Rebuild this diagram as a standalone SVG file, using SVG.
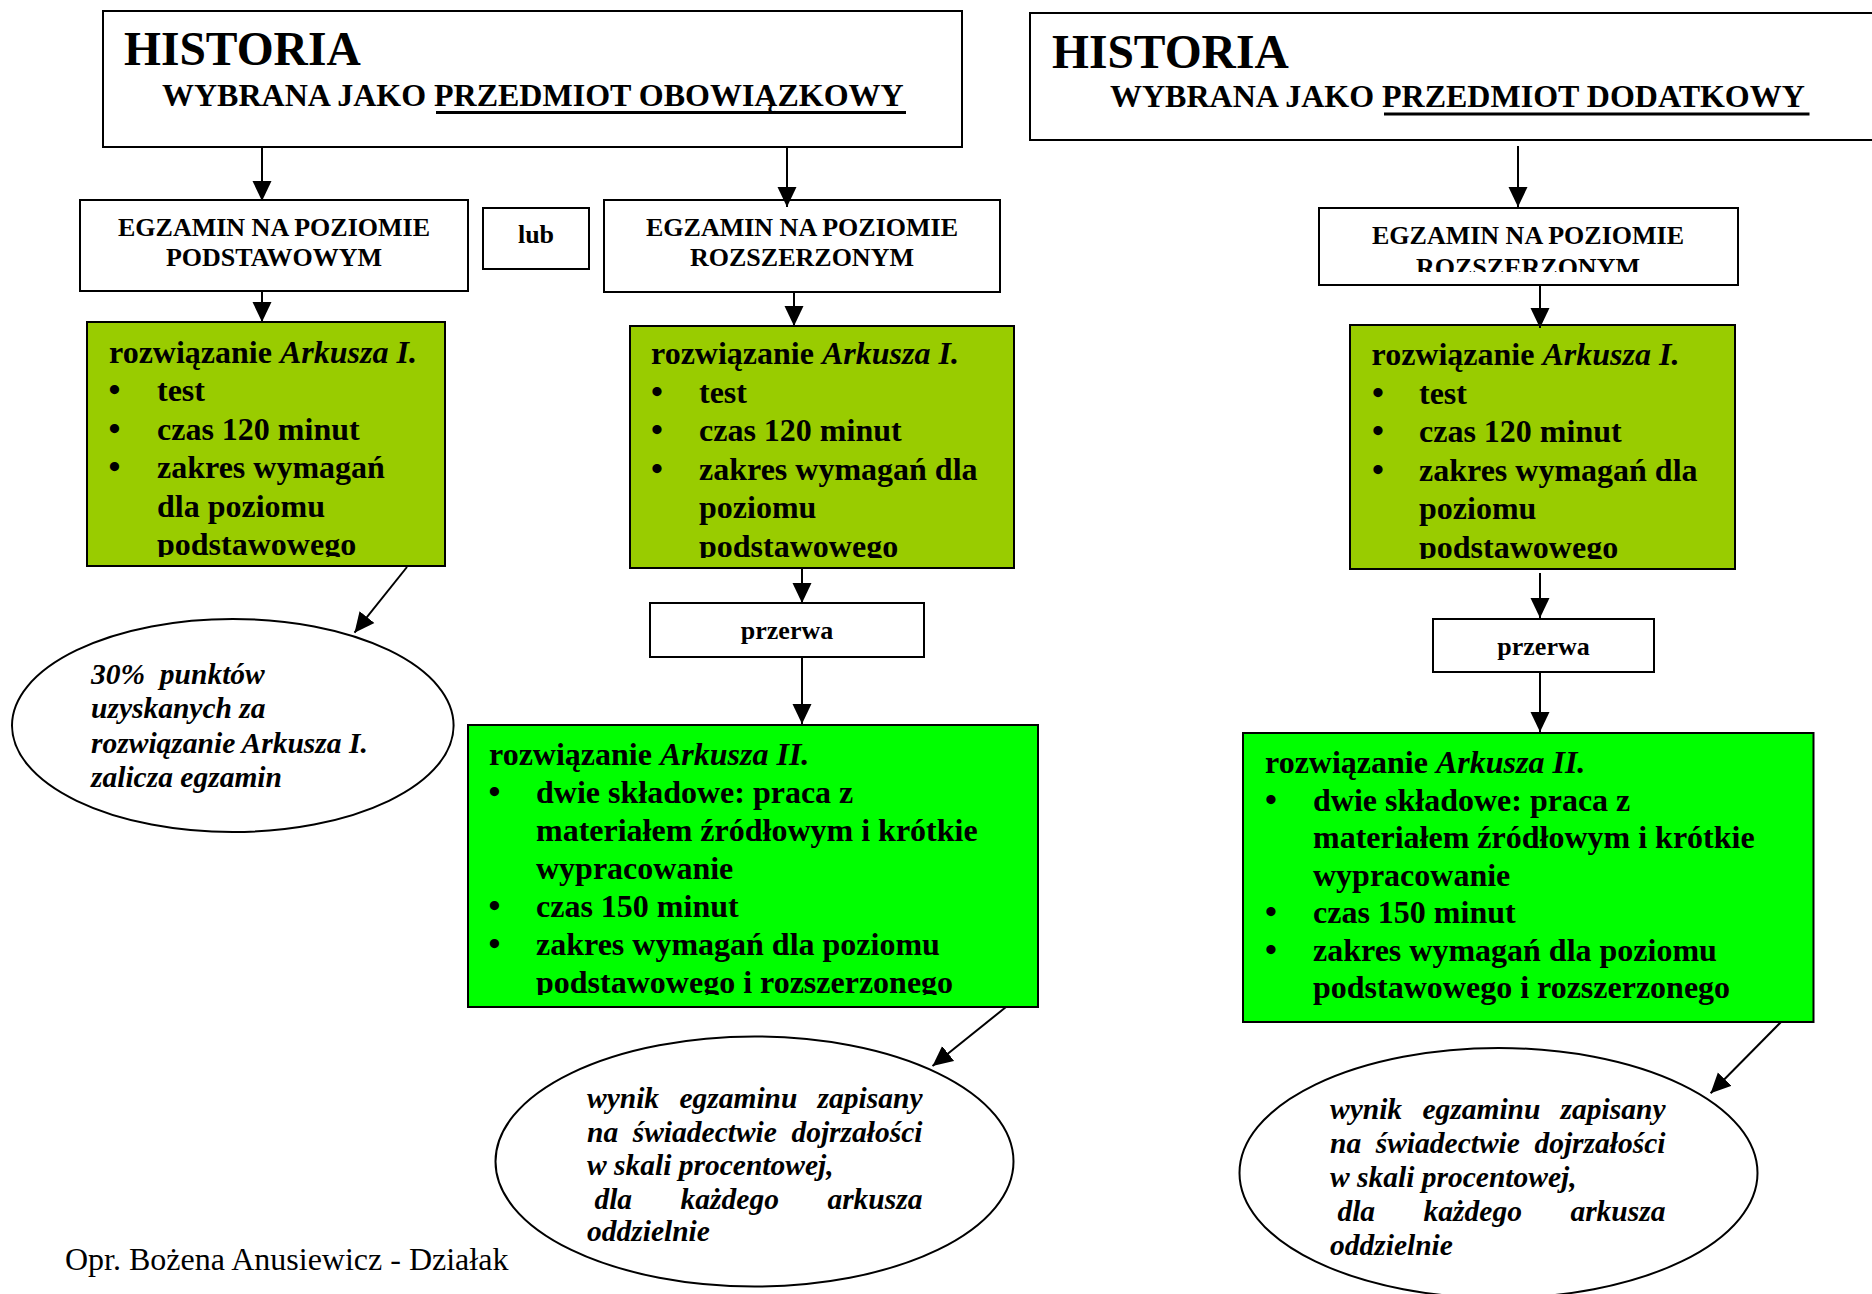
<svg xmlns="http://www.w3.org/2000/svg" width="1872" height="1294" viewBox="0 0 1872 1294">
<style>
.bx{fill:#fff;stroke:#000;stroke-width:2}
.ga{fill:#99CC00;stroke:#000;stroke-width:2}
.gb{fill:#00FF00;stroke:#000;stroke-width:2}
.el{fill:#fff;stroke:#000;stroke-width:2}
text{font-family:"Liberation Serif","Times New Roman",serif;fill:#000}
.i{font-style:italic}
.h1{font-size:47.5px;font-weight:bold}
.h2{font-size:32px;font-weight:bold}
.eg{font-size:26px;font-weight:bold}
.gt{font-size:32px;font-weight:bold}
.bu{font-size:34px}
.et{font-size:29.5px;font-weight:bold;font-style:italic}
.ft{font-size:32px}
.cn line{stroke:#000;stroke-width:2}
</style>
<defs>
<marker id="ah" markerUnits="userSpaceOnUse" markerWidth="20" markerHeight="20" refX="20" refY="10" orient="auto">
<path d="M0,0.5 L20,10 L0,19.5 Z" fill="#000"/>
</marker>
<clipPath id="cEgR"><rect x="1319" y="208" width="419" height="64"/></clipPath>
<clipPath id="cG1L"><rect x="87" y="322" width="358" height="235"/></clipPath>
<clipPath id="cG1M"><rect x="630" y="326" width="384" height="232"/></clipPath>
<clipPath id="cG1R"><rect x="1350" y="325" width="385" height="234"/></clipPath>
<clipPath id="cG2M"><rect x="468" y="725" width="570" height="270"/></clipPath>
</defs>

<g id="title-left">
<rect class="bx" x="103" y="11" width="859" height="136"/>
<text class="h1" x="124" y="65">HISTORIA</text>
<text class="h2" x="162" y="106">WYBRANA JAKO PRZEDMIOT OBOWIĄZKOWY</text>
<line x1="436" y1="112.5" x2="906" y2="112.5" stroke="#000" stroke-width="3"/>
</g>

<g id="title-right">
<rect class="bx" x="1030" y="13" width="850" height="127"/>
<text class="h1" x="1052" y="68">HISTORIA</text>
<text class="h2" x="1110" y="107">WYBRANA JAKO PRZEDMIOT DODATKOWY</text>
<line x1="1384" y1="114" x2="1809.5" y2="114" stroke="#000" stroke-width="3"/>
</g>

<g id="egz-podst">
<rect class="bx" x="80" y="200" width="388" height="91"/>
<text class="eg" x="274" y="236" text-anchor="middle">EGZAMIN NA POZIOMIE</text>
<text class="eg" x="274" y="266" text-anchor="middle">PODSTAWOWYM</text>
</g>

<g id="lub">
<rect class="bx" x="483" y="208" width="106" height="61"/>
<text class="eg" x="536" y="243" text-anchor="middle">lub</text>
</g>

<g id="egz-rozsz-1">
<rect class="bx" x="604" y="200" width="396" height="92"/>
<text class="eg" x="802" y="236" text-anchor="middle">EGZAMIN NA POZIOMIE</text>
<text class="eg" x="802" y="266" text-anchor="middle">ROZSZERZONYM</text>
</g>

<g id="egz-rozsz-2">
<rect class="bx" x="1319" y="208" width="419" height="77"/>
<g clip-path="url(#cEgR)">
<text class="eg" x="1528" y="243.5" text-anchor="middle">EGZAMIN NA POZIOMIE</text>
<text class="eg" x="1528" y="276" text-anchor="middle">ROZSZERZONYM</text>
</g>
</g>

<g id="ark1-podst">
<rect class="ga" x="87" y="322" width="358" height="244"/>
<g clip-path="url(#cG1L)">
<text class="gt" x="109" y="362.7">rozwiązanie <tspan class="i">Arkusza I.</tspan></text>
<text class="gt" y="401.2"><tspan class="bu" x="108.5">•</tspan><tspan x="157">test</tspan></text>
<text class="gt" y="439.7"><tspan class="bu" x="108.5">•</tspan><tspan x="157">czas 120 minut</tspan></text>
<text class="gt" y="478.2"><tspan class="bu" x="108.5">•</tspan><tspan x="157">zakres wymagań</tspan></text>
<text class="gt" x="157" y="516.7">dla poziomu</text>
<text class="gt" x="157" y="555.2">podstawowego</text>
</g>
</g>

<g id="ark1-rozsz-1">
<rect class="ga" x="630" y="326" width="384" height="242"/>
<g clip-path="url(#cG1M)">
<text class="gt" x="651" y="364">rozwiązanie <tspan class="i">Arkusza I.</tspan></text>
<text class="gt" y="402.5"><tspan class="bu" x="651">•</tspan><tspan x="699">test</tspan></text>
<text class="gt" y="441"><tspan class="bu" x="651">•</tspan><tspan x="699">czas 120 minut</tspan></text>
<text class="gt" y="479.5"><tspan class="bu" x="651">•</tspan><tspan x="699">zakres wymagań dla</tspan></text>
<text class="gt" x="699" y="518">poziomu</text>
<text class="gt" x="699" y="556.5">podstawowego</text>
</g>
</g>

<g id="ark1-rozsz-2">
<rect class="ga" x="1350" y="325" width="385" height="244"/>
<g clip-path="url(#cG1R)">
<text class="gt" x="1371.5" y="365">rozwiązanie <tspan class="i">Arkusza I.</tspan></text>
<text class="gt" y="403.5"><tspan class="bu" x="1372">•</tspan><tspan x="1419">test</tspan></text>
<text class="gt" y="442"><tspan class="bu" x="1372">•</tspan><tspan x="1419">czas 120 minut</tspan></text>
<text class="gt" y="480.5"><tspan class="bu" x="1372">•</tspan><tspan x="1419">zakres wymagań dla</tspan></text>
<text class="gt" x="1419" y="519">poziomu</text>
<text class="gt" x="1419" y="557.5">podstawowego</text>
</g>
</g>

<g id="przerwa-1">
<rect class="bx" x="650" y="603" width="274" height="54"/>
<text class="eg" x="787" y="639" text-anchor="middle">przerwa</text>
</g>

<g id="przerwa-2">
<rect class="bx" x="1433" y="619" width="221" height="53"/>
<text class="eg" x="1543.5" y="655" text-anchor="middle">przerwa</text>
</g>

<g id="ark2-1">
<rect class="gb" x="468" y="725" width="570" height="282"/>
<g clip-path="url(#cG2M)">
<text class="gt" x="489" y="764.5">rozwiązanie <tspan class="i">Arkusza II.</tspan></text>
<text class="gt" y="802.6"><tspan class="bu" x="488.5">•</tspan><tspan x="536">dwie składowe: praca z</tspan></text>
<text class="gt" x="536" y="840.8">materiałem źródłowym i krótkie</text>
<text class="gt" x="536" y="878.9">wypracowanie</text>
<text class="gt" y="917"><tspan class="bu" x="488.5">•</tspan><tspan x="536">czas 150 minut</tspan></text>
<text class="gt" y="955.2"><tspan class="bu" x="488.5">•</tspan><tspan x="536">zakres wymagań dla poziomu</tspan></text>
<text class="gt" x="536" y="993.3">podstawowego i rozszerzonego</text>
</g>
</g>

<g id="ark2-2">
<rect class="gb" x="1243" y="733" width="570.5" height="289"/>
<text class="gt" x="1265" y="773.3">rozwiązanie <tspan class="i">Arkusza II.</tspan></text>
<text class="gt" y="810.8"><tspan class="bu" x="1265">•</tspan><tspan x="1313">dwie składowe: praca z</tspan></text>
<text class="gt" x="1313" y="848.3">materiałem źródłowym i krótkie</text>
<text class="gt" x="1313" y="885.8">wypracowanie</text>
<text class="gt" y="923.3"><tspan class="bu" x="1265">•</tspan><tspan x="1313">czas 150 minut</tspan></text>
<text class="gt" y="960.8"><tspan class="bu" x="1265">•</tspan><tspan x="1313">zakres wymagań dla poziomu</tspan></text>
<text class="gt" x="1313" y="998.3">podstawowego i rozszerzonego</text>
</g>

<g id="ell-zalicza">
<ellipse class="el" cx="232.8" cy="725.5" rx="220.8" ry="106.5"/>
<text class="et" x="91" y="684.3" xml:space="preserve">30%  punktów</text>
<text class="et" x="91" y="718.3">uzyskanych za</text>
<text class="et" x="91" y="752.7">rozwiązanie Arkusza I.</text>
<text class="et" x="91" y="786.7">zalicza egzamin</text>
</g>

<g id="ell-wynik-1">
<ellipse class="el" cx="754.5" cy="1161.5" rx="259" ry="125"/>
<text class="et" y="1107.5"><tspan x="587">wynik</tspan><tspan x="679.4">egzaminu</tspan><tspan x="817.6">zapisany</tspan></text>
<text class="et" y="1141.5"><tspan x="587">na</tspan><tspan x="632.7">świadectwie</tspan><tspan x="791.4">dojrzałości</tspan></text>
<text class="et" x="587" y="1175">w skali procentowej,</text>
<text class="et" y="1208.5"><tspan x="594.4">dla</tspan><tspan x="680.6">każdego</tspan><tspan x="827.4">arkusza</tspan></text>
<text class="et" x="587" y="1241">oddzielnie</text>
</g>

<g id="ell-wynik-2">
<ellipse class="el" cx="1498.5" cy="1173" rx="259" ry="125"/>
<text class="et" y="1118.5"><tspan x="1330">wynik</tspan><tspan x="1422.4">egzaminu</tspan><tspan x="1560.6">zapisany</tspan></text>
<text class="et" y="1152.5"><tspan x="1330">na</tspan><tspan x="1375.7">świadectwie</tspan><tspan x="1534.4">dojrzałości</tspan></text>
<text class="et" x="1330" y="1186.5">w skali procentowej,</text>
<text class="et" y="1220.5"><tspan x="1337.4">dla</tspan><tspan x="1423.6">każdego</tspan><tspan x="1570.4">arkusza</tspan></text>
<text class="et" x="1330" y="1254.5">oddzielnie</text>
</g>

<g id="footer">
<text class="ft" x="65" y="1270">Opr. Bożena Anusiewicz - Działak</text>
</g>

<g id="connectors" class="cn">
<line x1="262" y1="147" x2="262" y2="201" marker-end="url(#ah)"/>
<line x1="787" y1="147" x2="787" y2="207" marker-end="url(#ah)"/>
<line x1="1518" y1="146" x2="1518" y2="207" marker-end="url(#ah)"/>
<line x1="262" y1="291" x2="262" y2="322" marker-end="url(#ah)"/>
<line x1="794" y1="292" x2="794" y2="326" marker-end="url(#ah)"/>
<line x1="1540" y1="285" x2="1540" y2="328" marker-end="url(#ah)"/>
<line x1="802" y1="568" x2="802" y2="603" marker-end="url(#ah)"/>
<line x1="802" y1="657" x2="802" y2="724" marker-end="url(#ah)"/>
<line x1="1540" y1="573" x2="1540" y2="618" marker-end="url(#ah)"/>
<line x1="1540" y1="672" x2="1540" y2="732" marker-end="url(#ah)"/>
<line x1="407" y1="567" x2="354.5" y2="632.7" marker-end="url(#ah)"/>
<line x1="1006" y1="1007" x2="932.5" y2="1066" marker-end="url(#ah)"/>
<line x1="1781" y1="1022" x2="1710.6" y2="1093.3" marker-end="url(#ah)"/>
</g>
</svg>
